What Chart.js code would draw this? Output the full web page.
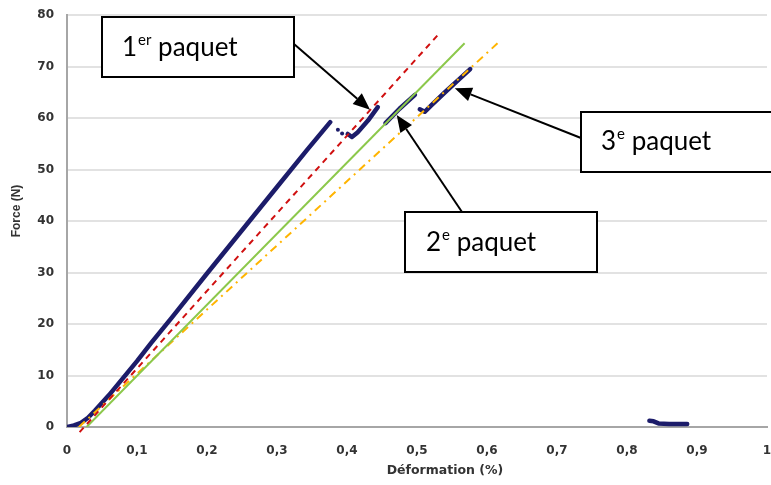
<!DOCTYPE html>
<html>
<head>
<meta charset="utf-8">
<script src="https://cdn.jsdelivr.net/npm/chart.js@4/dist/chart.umd.min.js"></script>
<style>
  body { margin: 0; background: #fff; }
  canvas { display: block; }
</style>
</head>
<body>
<canvas id="chart" width="771" height="485"></canvas>
<script>
// measured curve (Déformation %, Force N)
const mainStrain = [0, 0.01, 0.02, 0.03, 0.04, 0.05, 0.06, 0.08, 0.1, 0.12, 0.15, 0.2, 0.25, 0.3, 0.343, 0.376];
const mainForce  = [0, 0.3, 0.8, 1.8, 3.2, 4.7, 6.2, 9.5, 12.8, 16.3, 21.3, 29.8, 38.2, 46.6, 53.8, 59.2];
const dotsStrain = [0.387, 0.393];
const dotsForce  = [57.7, 57.0];
const pack1Strain = [0.401, 0.407, 0.415, 0.43, 0.444];
const pack1Force  = [56.9, 56.3, 57.2, 59.5, 62.1];
const pack2Strain = [0.455, 0.475, 0.497];
const pack2Force  = [59.0, 61.8, 64.5];
const pack3Strain = [0.504, 0.511, 0.52, 0.54, 0.56, 0.576];
const pack3Force  = [61.7, 61.2, 62.4, 65.0, 67.5, 69.5];
const tailStrain = [0.832, 0.838, 0.845, 0.86, 0.875, 0.886];
const tailForce  = [1.2, 1.1, 0.7, 0.6, 0.6, 0.6];

// trend lines
const redStrain = [0.018, 0.529];
const redForce  = [-1, 76];
const greenStrain = [0.028, 0.568];
const greenForce  = [0, 74.5];
const orangeStrain = [0.017, 0.615];
const orangeForce  = [0, 74.5];

const xTicks = [0, 0.1, 0.2, 0.3, 0.4, 0.5, 0.6, 0.7, 0.8, 0.9, 1];
const yTicks = [0, 10, 20, 30, 40, 50, 60, 70, 80];

const pts = (xs, ys) => xs.map((x, i) => ({ x: x, y: ys[i] }));

const NAVY = '#1c1c6a';
const TICK_FONT = { family: '"DejaVu Sans", sans-serif', size: 12, weight: 'bold' };

const callouts = [
  { main: '1', sup: 'er', rest: ' paquet', box: [102, 17, 192, 60], text: [122, 56], from: [294, 44], tip: [0.433, 61.6] },
  { main: '2', sup: 'e', rest: ' paquet', box: [405, 212, 192, 60], text: [426, 251], from: [462, 212], tip: [0.471, 60.6] },
  { main: '3', sup: 'e', rest: ' paquet', box: [581, 112, 210, 60], text: [601, 150], from: [581, 138], tip: [0.554, 65.8] }
];

const annotate = {
  id: 'annotate',
  afterDraw(chart) {
    const ctx = chart.ctx;
    const xs = chart.scales.x, ys = chart.scales.y;
    ctx.save();
    // axis titles
    ctx.fillStyle = '#333';
    ctx.textAlign = 'center';
    ctx.textBaseline = 'middle';
    ctx.font = 'bold 12.5px "DejaVu Sans", sans-serif';
    ctx.fillText('Déformation (%)', 445, 471);
    ctx.save();
    ctx.translate(17, 211);
    ctx.rotate(-Math.PI / 2);
    ctx.font = 'bold 12px "Liberation Sans", sans-serif';
    ctx.fillText('Force (N)', 0, 0);
    ctx.restore();

    callouts.forEach(c => {
      const tx = xs.getPixelForValue(c.tip[0]);
      const ty = ys.getPixelForValue(c.tip[1]);
      const [fx, fy] = c.from;
      const ang = Math.atan2(ty - fy, tx - fx);
      const hl = 17, hw = 7;
      const bx = tx - hl * Math.cos(ang), by = ty - hl * Math.sin(ang);
      ctx.strokeStyle = '#000';
      ctx.fillStyle = '#000';
      ctx.lineWidth = 2;
      ctx.beginPath();
      ctx.moveTo(fx, fy);
      ctx.lineTo(bx, by);
      ctx.stroke();
      ctx.beginPath();
      ctx.moveTo(tx, ty);
      ctx.lineTo(bx + hw * Math.sin(ang), by - hw * Math.cos(ang));
      ctx.lineTo(bx - hw * Math.sin(ang), by + hw * Math.cos(ang));
      ctx.closePath();
      ctx.fill();

      const [x0, y0, w, h] = c.box;
      ctx.fillStyle = '#fff';
      ctx.fillRect(x0, y0, w, h);
      ctx.strokeRect(x0, y0, w, h);

      ctx.fillStyle = '#000';
      ctx.textAlign = 'left';
      ctx.textBaseline = 'alphabetic';
      let [px, py] = c.text;
      ctx.font = '26px Lato, "Open Sans", sans-serif';
      ctx.fillText(c.main, px, py);
      px += ctx.measureText(c.main).width + 1;
      ctx.font = '15px Lato, "Open Sans", sans-serif';
      ctx.fillText(c.sup, px, py - 11);
      px += ctx.measureText(c.sup).width;
      ctx.font = '26px Lato, "Open Sans", sans-serif';
      ctx.fillText(c.rest, px, py);
    });
    ctx.restore();
  }
};

const blue = (data, extra) => Object.assign({
  data: data, showLine: true, borderColor: NAVY, backgroundColor: NAVY,
  borderWidth: 4.5, pointRadius: 0, borderCapStyle: 'round', borderJoinStyle: 'round'
}, extra || {});

new Chart(document.getElementById('chart'), {
  type: 'scatter',
  data: {
    datasets: [
      { data: pts(redStrain, redForce), showLine: true, borderColor: '#d01010', borderWidth: 2, borderDash: [6, 5], pointRadius: 0, clip: false },
      { data: pts(greenStrain, greenForce), showLine: true, borderColor: '#8cc84b', borderWidth: 2, pointRadius: 0 },
      { data: pts(orangeStrain, orangeForce), showLine: true, borderColor: '#ffb400', borderWidth: 2, borderDash: [8, 5, 2, 5], pointRadius: 0 },
      blue(pts(mainStrain, mainForce)),
      blue(pts(dotsStrain, dotsForce), { showLine: false, pointRadius: 2, borderWidth: 0 }),
      blue(pts(pack1Strain, pack1Force)),
      blue(pts(pack2Strain, pack2Force)),
      blue(pts(pack3Strain, pack3Force)),
      blue(pts(tailStrain, tailForce))
    ]
  },
  options: {
    responsive: false,
    devicePixelRatio: 1,
    animation: false,
    layout: { padding: { top: 15, right: 4, left: 0, bottom: 0 } },
    plugins: { legend: { display: false }, tooltip: { enabled: false } },
    scales: {
      x: {
        type: 'linear', min: 0, max: 1,
        afterBuildTicks: s => { s.ticks = xTicks.map(v => ({ value: v })); },
        afterFit: s => { s.height = 58; s.paddingLeft = 0; s.paddingRight = 0; },
        grid: { display: false },
        border: { display: true, color: '#a6a6a6', width: 2 },
        ticks: {
          padding: 9, color: '#333', maxRotation: 0, autoSkip: false,
          font: TICK_FONT,
          callback: v => (v === 0 || v === 1) ? String(v) : v.toFixed(1).replace('.', ',')
        }
      },
      y: {
        type: 'linear', min: 0, max: 80,
        afterBuildTicks: s => { s.ticks = yTicks.map(v => ({ value: v })); },
        afterFit: s => { s.width = 67; s.paddingTop = 0; s.paddingBottom = 0; },
        grid: { color: '#e2e2e2', lineWidth: 2, drawTicks: false },
        border: { display: true, color: '#a6a6a6', width: 2 },
        ticks: { padding: 13, color: '#333', font: TICK_FONT }
      }
    }
  },
  plugins: [annotate]
});
</script>
</body>
</html>
